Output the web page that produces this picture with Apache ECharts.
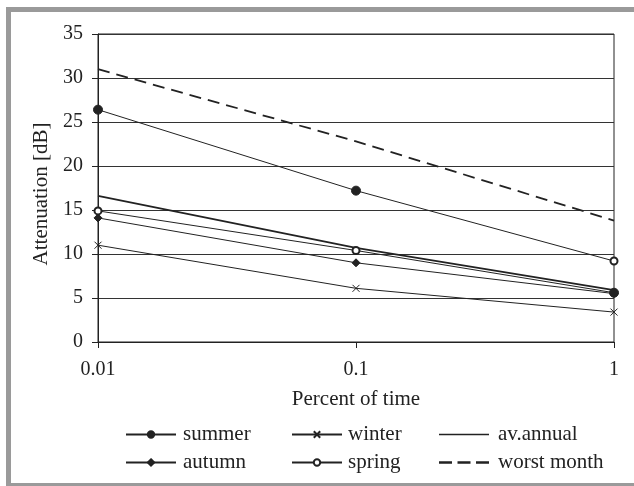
<!DOCTYPE html>
<html>
<head>
<meta charset="utf-8">
<script src="https://cdn.jsdelivr.net/npm/echarts@6/dist/echarts.min.js"></script>
<style>
  html, body { margin: 0; padding: 0; background: #fff; }
  #chart { width: 634px; height: 486px; }
</style>
</head>
<body>
<div id="chart"></div>
<script>
// percent of time (log axis)
var percent = [0.01, 0.1, 1];

// attenuation in dB
var summer = [26.4, 17.2, 9.2];
var autumn = [14.1, 9.0, 5.5];
var winter = [11.0, 6.1, 3.4];
var spring = [14.9, 10.4, 5.6];
var annual = [16.6, 10.7, 5.9];
var worst = [31.0, 22.8, 13.8];

// marker drawn at each point (the figure swaps the last two)
var summerMarks = ['circle', 'circle', 'emptyCircle'];
var springMarks = ['emptyCircle', 'emptyCircle', 'circle'];

var yTicks = [0, 5, 10, 15, 20, 25, 30, 35];

var FONT = 'Liberation Serif';
var INK = '#222';

function pairs(vals, marks) {
  return percent.map(function (p, i) {
    var item = { value: [p, vals[i]] };
    if (marks) {
      item.symbol = marks[i];
      item.symbolSize = marks[i] === 'emptyCircle' ? 7 : 9;
    }
    return item;
  });
}

// thin line series with marker
function mk(name, vals, symbol, size, marks) {
  return {
    name: name,
    type: 'line',
    data: pairs(vals, marks),
    symbol: symbol,
    symbolSize: size,
    showSymbol: true,
    lineStyle: { color: INK, width: 1 },
    itemStyle: { color: INK, borderColor: INK, borderWidth: 1 },
    z: 3
  };
}

var chart = echarts.init(document.getElementById('chart'));

var legendBase = {
  orient: 'vertical',
  top: 419,
  itemWidth: 50,
  itemHeight: 8,
  itemGap: 7,
  inactiveColor: INK
};

function legendText(gap) {
  return { fontFamily: FONT, fontSize: 21, color: INK, padding: [0, 0, 0, gap] };
}

chart.setOption({
  animation: false,
  backgroundColor: '#fff',
  graphic: [{
    type: 'rect',
    shape: { x: 8.5, y: 9.5, width: 640, height: 476 },
    style: { fill: 'none', stroke: '#9a9a9a', lineWidth: 5 },
    silent: true
  }],
  grid: {
    left: 98, right: 20, top: 34, bottom: 144,
    show: true, borderColor: INK, borderWidth: 1
  },
  legend: [
    Object.assign({}, legendBase, { left: 120, textStyle: legendText(2), data: ['summer', 'autumn'] }),
    Object.assign({}, legendBase, { left: 286, textStyle: legendText(1), data: ['winter', 'spring'] }),
    Object.assign({}, legendBase, {
      left: 434,
      textStyle: legendText(4),
      data: [
        { name: 'av.annual', icon: 'path://M0,0h50v1.6h-50z', itemStyle: { color: INK } },
        { name: 'worst month', icon: 'path://M0,0h13v2.6h-13zM18.5,0h13v2.6h-13zM37,0h13v2.6h-13z', itemStyle: { color: INK } }
      ]
    })
  ],
  xAxis: {
    type: 'log',
    logBase: 10,
    min: 0.01,
    max: 1,
    name: 'Percent of time',
    nameLocation: 'middle',
    nameGap: 47,
    nameTextStyle: { fontFamily: FONT, fontSize: 21, color: INK },
    axisLine: { lineStyle: { color: INK, width: 1 } },
    axisTick: { show: true, length: 6, lineStyle: { color: INK } },
    axisLabel: {
      fontFamily: FONT, fontSize: 20, color: INK, margin: 18,
      formatter: function (v) { return String(+v.toPrecision(3)); }
    },
    splitLine: { show: false },
    minorTick: { show: false }
  },
  yAxis: {
    type: 'value',
    min: yTicks[0],
    max: yTicks[yTicks.length - 1],
    interval: 5,
    name: 'Attenuation [dB]',
    nameLocation: 'middle',
    nameGap: 46,
    nameTextStyle: { fontFamily: FONT, fontSize: 21, color: INK, padding: [0, 12, 0, 0] },
    axisLine: { show: true, lineStyle: { color: INK, width: 1 } },
    axisTick: { show: true, length: 6, lineStyle: { color: INK } },
    axisLabel: { fontFamily: FONT, fontSize: 20, color: INK, margin: 15 },
    splitLine: { show: true, lineStyle: { color: '#333', width: 1 } }
  },
  series: [
    mk('summer', summer, 'circle', 9, summerMarks),
    mk('autumn', autumn, 'diamond', 8),
    mk('winter', winter, 'path://M0,0L10,10M10,0L0,10', 7),
    mk('spring', spring, 'emptyCircle', 7, springMarks),
    {
      name: 'av.annual',
      type: 'line',
      data: pairs(annual),
      symbol: 'none',
      lineStyle: { color: INK, width: 1.8 },
      itemStyle: { color: INK },
      z: 2
    },
    {
      name: 'worst month',
      type: 'line',
      data: pairs(worst),
      symbol: 'none',
      lineStyle: { color: INK, width: 1.8, type: [12, 7] },
      itemStyle: { color: INK },
      z: 2
    }
  ]
});
</script>
</body>
</html>
